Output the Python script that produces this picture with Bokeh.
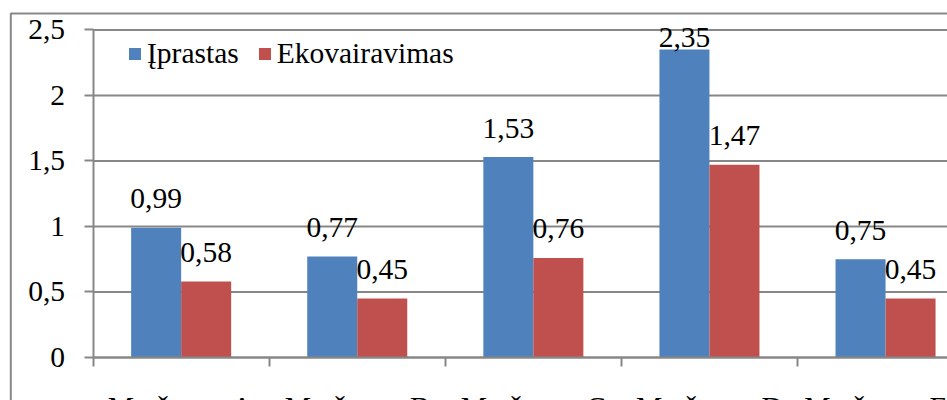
from bokeh.plotting import figure
from bokeh.models import (ColumnDataSource, FixedTicker, LabelSet, Legend, LegendItem,
                          BoxAnnotation, Range1d, LinearAxis)
from bokeh.embed import file_html
from bokeh.resources import INLINE

# Data: travel cost per route, regular driving vs eco-driving
categories = ["Maršrutas A", "Maršrutas B", "Maršrutas C", "Maršrutas D", "Maršrutas E"]
iprastas = [0.99, 0.77, 1.53, 2.35, 0.75]
ekovairavimas = [0.58, 0.45, 0.76, 1.47, 0.45]
series_names = ["Įprastas", "Ekovairavimas"]
y_ticks = [0, 0.5, 1, 1.5, 2, 2.5]
y_tick_labels = ["0", "0,5", "1", "1,5", "2", "2,5"]

FONT = "Liberation Serif"
FS = "29.5px"
BLUE = "#4F81BD"
RED = "#C0504D"
GREY = "#878787"

W, H = 947, 400
AX_LEFT, AX_TOP, AX_BOTTOM = 92.6, 29.4, 357   # plot-area edges in pixels
CAT_PX = 176.1                                  # pixel width of one category slot
BAR_W = 0.284                                   # bar width in category units

y_min, y_max = 0, 2.5
ppu = (AX_BOTTOM - AX_TOP) / (y_max - y_min)
n = len(categories)

x_range = Range1d(-AX_LEFT / CAT_PX, (W - AX_LEFT) / CAT_PX)
y_range = Range1d(y_min - (H - AX_BOTTOM) / ppu, y_max + AX_TOP / ppu)

centers = [i + 0.5 for i in range(n)]
x_blue = [c - BAR_W / 2 for c in centers]
x_red = [c + BAR_W / 2 for c in centers]


def fmt(v):
    return f"{v:.2f}".replace(".", ",")


def label_offset(v):
    # value labels float above the bars but stay inside the plot area at the top
    return min(19.5, (y_max - v) * ppu - 17.5)


src_blue = ColumnDataSource(dict(x=x_blue, top=iprastas,
                                 text=[fmt(v) for v in iprastas],
                                 off=[label_offset(v) for v in iprastas]))
src_red = ColumnDataSource(dict(x=x_red, top=ekovairavimas,
                                text=[fmt(v) for v in ekovairavimas],
                                off=[label_offset(v) for v in ekovairavimas]))

p = figure(width=W, height=H, output_backend="svg", toolbar_location=None,
           x_range=x_range, y_range=y_range, x_axis_type=None, y_axis_type=None,
           min_border=0)
p.outline_line_color = None
p.background_fill_color = "white"
p.border_fill_color = "white"
p.xgrid.visible = False
p.ygrid.visible = False

# horizontal gridlines across the plot area
p.segment(x0=0, x1=n, y0=y_ticks, y1=y_ticks, line_color=GREY, line_width=2)

r_blue = p.vbar(x="x", top="top", width=BAR_W, bottom=0, source=src_blue,
                fill_color=BLUE, line_color=None)
r_red = p.vbar(x="x", top="top", width=BAR_W, bottom=0, source=src_red,
               fill_color=RED, line_color=None)

for src in (src_blue, src_red):
    p.add_layout(LabelSet(x="x", y="top", text="text", y_offset="off", source=src,
                          text_align="center", text_baseline="alphabetic",
                          text_font=FONT, text_font_size=FS, text_color="black"))

# value axis
yaxis = LinearAxis(fixed_location=0, bounds=(y_min, y_max),
                   ticker=FixedTicker(ticks=y_ticks),
                   major_label_overrides={t: l for t, l in zip(y_ticks, y_tick_labels)},
                   major_label_text_font=FONT, major_label_text_font_size=FS,
                   major_label_text_color="black", major_label_standoff=19,
                   major_tick_out=9, major_tick_in=0, minor_tick_line_color=None,
                   axis_line_color=GREY, axis_line_width=2,
                   major_tick_line_color=GREY, major_tick_line_width=2)
p.add_layout(yaxis, "left")

# category axis: names at slot centres, tick marks on slot boundaries
xaxis = LinearAxis(fixed_location=0, bounds=(0, n),
                   ticker=FixedTicker(ticks=centers, minor_ticks=list(range(n + 1))),
                   major_label_overrides={c: name for c, name in zip(centers, categories)},
                   major_label_text_font=FONT, major_label_text_font_size=FS,
                   major_label_text_color="black", major_label_standoff=24,
                   major_tick_out=0, major_tick_in=0, major_tick_line_color=None,
                   minor_tick_out=9, minor_tick_in=0,
                   minor_tick_line_color=GREY, minor_tick_line_width=2,
                   axis_line_color=GREY, axis_line_width=2)
p.add_layout(xaxis, "below")

# chart area border
p.add_layout(BoxAnnotation(left=10.3, right=3000, top=H - 13, bottom=-3000,
                           left_units="screen", right_units="screen",
                           top_units="screen", bottom_units="screen",
                           fill_color=None, line_color=GREY, line_alpha=1.0,
                           line_width=2, level="overlay"))

legend = Legend(items=[LegendItem(label=series_names[0], renderers=[r_blue]),
                       LegendItem(label=series_names[1], renderers=[r_red])],
                orientation="horizontal", location=(127, 330),
                glyph_width=15, glyph_height=15, label_standoff=5, spacing=18,
                padding=0, margin=0, border_line_color=None, background_fill_alpha=0,
                label_text_font=FONT, label_text_font_size=FS, label_text_color="black",
                label_text_baseline="middle")
p.add_layout(legend)

open("out.html", "w").write(file_html(p, INLINE))
